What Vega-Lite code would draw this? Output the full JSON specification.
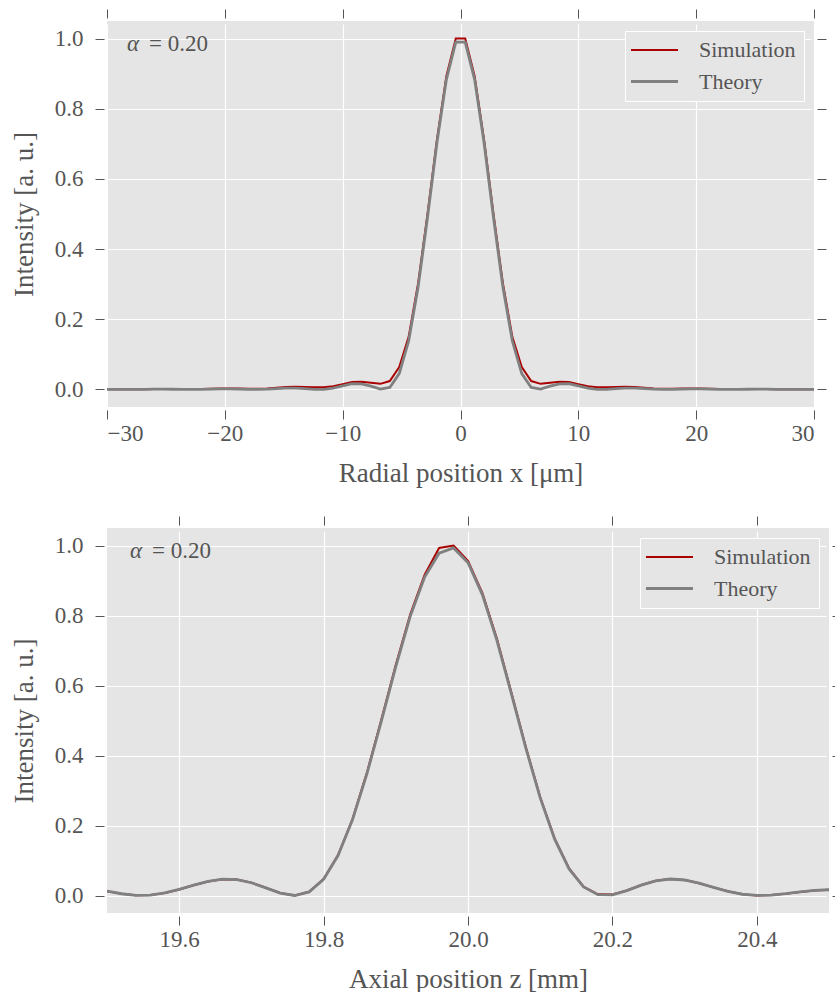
{
  "$schema": "https://vega.github.io/schema/vega-lite/v6.json",
  "background": "white",
  "padding": {"left": 10, "top": 8, "right": 0, "bottom": 0},
  "spacing": 29,
  "datasets": {
    "radial": [
      {"x": -30.0, "v": 0.0004, "s": "Simulation"}, {"x": -29.2, "v": 0.0004, "s": "Simulation"}, {"x": -28.4, "v": 0.0004, "s": "Simulation"}, {"x": -27.6, "v": 0.0005, "s": "Simulation"}, {"x": -26.8, "v": 0.0008, "s": "Simulation"}, {"x": -26.0, "v": 0.001, "s": "Simulation"}, {"x": -25.2, "v": 0.001, "s": "Simulation"}, {"x": -24.4, "v": 0.001, "s": "Simulation"}, {"x": -23.6, "v": 0.001, "s": "Simulation"}, {"x": -22.8, "v": 0.001, "s": "Simulation"}, {"x": -22.0, "v": 0.001, "s": "Simulation"}, {"x": -21.2, "v": 0.002, "s": "Simulation"}, {"x": -20.4, "v": 0.003, "s": "Simulation"}, {"x": -19.6, "v": 0.003, "s": "Simulation"}, {"x": -18.8, "v": 0.003, "s": "Simulation"}, {"x": -18.0, "v": 0.002, "s": "Simulation"}, {"x": -17.2, "v": 0.002, "s": "Simulation"}, {"x": -16.4, "v": 0.003, "s": "Simulation"}, {"x": -15.6, "v": 0.005, "s": "Simulation"}, {"x": -14.8, "v": 0.007, "s": "Simulation"}, {"x": -14.0, "v": 0.008, "s": "Simulation"}, {"x": -13.2, "v": 0.007, "s": "Simulation"}, {"x": -12.4, "v": 0.006, "s": "Simulation"}, {"x": -11.6, "v": 0.006, "s": "Simulation"}, {"x": -10.8, "v": 0.009, "s": "Simulation"}, {"x": -10.0, "v": 0.015, "s": "Simulation"}, {"x": -9.2, "v": 0.021, "s": "Simulation"}, {"x": -8.4, "v": 0.022, "s": "Simulation"}, {"x": -7.6, "v": 0.019, "s": "Simulation"}, {"x": -6.8, "v": 0.016, "s": "Simulation"}, {"x": -6.0, "v": 0.024, "s": "Simulation"}, {"x": -5.2, "v": 0.064, "s": "Simulation"}, {"x": -4.4, "v": 0.150, "s": "Simulation"}, {"x": -3.6, "v": 0.302, "s": "Simulation"}, {"x": -2.8, "v": 0.500, "s": "Simulation"}, {"x": -2.0, "v": 0.712, "s": "Simulation"}, {"x": -1.2, "v": 0.893, "s": "Simulation"}, {"x": -0.4, "v": 1.000, "s": "Simulation"},
      {"x": 0.4, "v": 1.000, "s": "Simulation"}, {"x": 1.2, "v": 0.893, "s": "Simulation"}, {"x": 2.0, "v": 0.712, "s": "Simulation"}, {"x": 2.8, "v": 0.500, "s": "Simulation"}, {"x": 3.6, "v": 0.302, "s": "Simulation"}, {"x": 4.4, "v": 0.150, "s": "Simulation"}, {"x": 5.2, "v": 0.064, "s": "Simulation"}, {"x": 6.0, "v": 0.024, "s": "Simulation"}, {"x": 6.8, "v": 0.016, "s": "Simulation"}, {"x": 7.6, "v": 0.019, "s": "Simulation"}, {"x": 8.4, "v": 0.022, "s": "Simulation"}, {"x": 9.2, "v": 0.021, "s": "Simulation"}, {"x": 10.0, "v": 0.015, "s": "Simulation"}, {"x": 10.8, "v": 0.009, "s": "Simulation"}, {"x": 11.6, "v": 0.006, "s": "Simulation"}, {"x": 12.4, "v": 0.006, "s": "Simulation"}, {"x": 13.2, "v": 0.007, "s": "Simulation"}, {"x": 14.0, "v": 0.008, "s": "Simulation"}, {"x": 14.8, "v": 0.007, "s": "Simulation"}, {"x": 15.6, "v": 0.005, "s": "Simulation"}, {"x": 16.4, "v": 0.003, "s": "Simulation"}, {"x": 17.2, "v": 0.002, "s": "Simulation"}, {"x": 18.0, "v": 0.002, "s": "Simulation"}, {"x": 18.8, "v": 0.003, "s": "Simulation"}, {"x": 19.6, "v": 0.003, "s": "Simulation"}, {"x": 20.4, "v": 0.003, "s": "Simulation"}, {"x": 21.2, "v": 0.002, "s": "Simulation"}, {"x": 22.0, "v": 0.001, "s": "Simulation"}, {"x": 22.8, "v": 0.001, "s": "Simulation"}, {"x": 23.6, "v": 0.001, "s": "Simulation"}, {"x": 24.4, "v": 0.001, "s": "Simulation"}, {"x": 25.2, "v": 0.001, "s": "Simulation"}, {"x": 26.0, "v": 0.001, "s": "Simulation"}, {"x": 26.8, "v": 0.0008, "s": "Simulation"}, {"x": 27.6, "v": 0.0005, "s": "Simulation"}, {"x": 28.4, "v": 0.0004, "s": "Simulation"}, {"x": 29.2, "v": 0.0004, "s": "Simulation"}, {"x": 30.0, "v": 0.0004, "s": "Simulation"},
      {"x": -30.0, "v": 0.0003, "s": "Theory"}, {"x": -29.2, "v": 0.0001, "s": "Theory"}, {"x": -28.4, "v": 0.0, "s": "Theory"}, {"x": -27.6, "v": 0.0002, "s": "Theory"}, {"x": -26.8, "v": 0.0005, "s": "Theory"}, {"x": -26.0, "v": 0.0007, "s": "Theory"}, {"x": -25.2, "v": 0.0008, "s": "Theory"}, {"x": -24.4, "v": 0.0006, "s": "Theory"}, {"x": -23.6, "v": 0.0002, "s": "Theory"}, {"x": -22.8, "v": 0.0, "s": "Theory"}, {"x": -22.0, "v": 0.0002, "s": "Theory"}, {"x": -21.2, "v": 0.0008, "s": "Theory"}, {"x": -20.4, "v": 0.0015, "s": "Theory"}, {"x": -19.6, "v": 0.0015, "s": "Theory"}, {"x": -18.8, "v": 0.001, "s": "Theory"}, {"x": -18.0, "v": 0.0003, "s": "Theory"}, {"x": -17.2, "v": 0.0, "s": "Theory"}, {"x": -16.4, "v": 0.0009, "s": "Theory"}, {"x": -15.6, "v": 0.0025, "s": "Theory"}, {"x": -14.8, "v": 0.0039, "s": "Theory"}, {"x": -14.0, "v": 0.004, "s": "Theory"}, {"x": -13.2, "v": 0.0023, "s": "Theory"}, {"x": -12.4, "v": 0.0004, "s": "Theory"}, {"x": -11.6, "v": 0.0004, "s": "Theory"}, {"x": -10.8, "v": 0.0038, "s": "Theory"}, {"x": -10.0, "v": 0.0105, "s": "Theory"}, {"x": -9.2, "v": 0.0165, "s": "Theory"}, {"x": -8.4, "v": 0.0159, "s": "Theory"}, {"x": -7.6, "v": 0.0094, "s": "Theory"}, {"x": -6.8, "v": 0.0008, "s": "Theory"}, {"x": -6.0, "v": 0.0058, "s": "Theory"}, {"x": -5.2, "v": 0.045, "s": "Theory"}, {"x": -4.4, "v": 0.138, "s": "Theory"}, {"x": -3.6, "v": 0.291, "s": "Theory"}, {"x": -2.8, "v": 0.49, "s": "Theory"}, {"x": -2.0, "v": 0.703, "s": "Theory"}, {"x": -1.2, "v": 0.883, "s": "Theory"}, {"x": -0.4, "v": 0.99, "s": "Theory"},
      {"x": 0.4, "v": 0.99, "s": "Theory"}, {"x": 1.2, "v": 0.883, "s": "Theory"}, {"x": 2.0, "v": 0.703, "s": "Theory"}, {"x": 2.8, "v": 0.49, "s": "Theory"}, {"x": 3.6, "v": 0.291, "s": "Theory"}, {"x": 4.4, "v": 0.138, "s": "Theory"}, {"x": 5.2, "v": 0.045, "s": "Theory"}, {"x": 6.0, "v": 0.0058, "s": "Theory"}, {"x": 6.8, "v": 0.0008, "s": "Theory"}, {"x": 7.6, "v": 0.0094, "s": "Theory"}, {"x": 8.4, "v": 0.0159, "s": "Theory"}, {"x": 9.2, "v": 0.0165, "s": "Theory"}, {"x": 10.0, "v": 0.0105, "s": "Theory"}, {"x": 10.8, "v": 0.0038, "s": "Theory"}, {"x": 11.6, "v": 0.0004, "s": "Theory"}, {"x": 12.4, "v": 0.0004, "s": "Theory"}, {"x": 13.2, "v": 0.0023, "s": "Theory"}, {"x": 14.0, "v": 0.004, "s": "Theory"}, {"x": 14.8, "v": 0.0039, "s": "Theory"}, {"x": 15.6, "v": 0.0025, "s": "Theory"}, {"x": 16.4, "v": 0.0009, "s": "Theory"}, {"x": 17.2, "v": 0.0, "s": "Theory"}, {"x": 18.0, "v": 0.0003, "s": "Theory"}, {"x": 18.8, "v": 0.001, "s": "Theory"}, {"x": 19.6, "v": 0.0015, "s": "Theory"}, {"x": 20.4, "v": 0.0015, "s": "Theory"}, {"x": 21.2, "v": 0.0008, "s": "Theory"}, {"x": 22.0, "v": 0.0002, "s": "Theory"}, {"x": 22.8, "v": 0.0, "s": "Theory"}, {"x": 23.6, "v": 0.0002, "s": "Theory"}, {"x": 24.4, "v": 0.0006, "s": "Theory"}, {"x": 25.2, "v": 0.0008, "s": "Theory"}, {"x": 26.0, "v": 0.0007, "s": "Theory"}, {"x": 26.8, "v": 0.0005, "s": "Theory"}, {"x": 27.6, "v": 0.0002, "s": "Theory"}, {"x": 28.4, "v": 0.0, "s": "Theory"}, {"x": 29.2, "v": 0.0001, "s": "Theory"}, {"x": 30.0, "v": 0.0003, "s": "Theory"}
    ],
    "axial": [
      {"z": 19.50, "v": 0.012, "s": "Simulation"}, {"z": 19.52, "v": 0.005, "s": "Simulation"}, {"z": 19.54, "v": 0.0008, "s": "Simulation"}, {"z": 19.56, "v": 0.0012, "s": "Simulation"}, {"z": 19.58, "v": 0.0068, "s": "Simulation"}, {"z": 19.60, "v": 0.017, "s": "Simulation"}, {"z": 19.62, "v": 0.0292, "s": "Simulation"}, {"z": 19.64, "v": 0.0402, "s": "Simulation"}, {"z": 19.66, "v": 0.0465, "s": "Simulation"}, {"z": 19.68, "v": 0.0458, "s": "Simulation"}, {"z": 19.70, "v": 0.0368, "s": "Simulation"}, {"z": 19.72, "v": 0.0222, "s": "Simulation"}, {"z": 19.74, "v": 0.0072, "s": "Simulation"}, {"z": 19.76, "v": 0.0002, "s": "Simulation"}, {"z": 19.78, "v": 0.0105, "s": "Simulation"}, {"z": 19.80, "v": 0.0468, "s": "Simulation"}, {"z": 19.82, "v": 0.1155, "s": "Simulation"}, {"z": 19.84, "v": 0.2185, "s": "Simulation"}, {"z": 19.86, "v": 0.351, "s": "Simulation"}, {"z": 19.88, "v": 0.503, "s": "Simulation"}, {"z": 19.90, "v": 0.6595, "s": "Simulation"}, {"z": 19.92, "v": 0.8035, "s": "Simulation"}, {"z": 19.94, "v": 0.9165, "s": "Simulation"}, {"z": 19.96, "v": 0.993, "s": "Simulation"}, {"z": 19.98, "v": 1.0, "s": "Simulation"}, {"z": 20.00, "v": 0.956, "s": "Simulation"}, {"z": 20.02, "v": 0.864, "s": "Simulation"}, {"z": 20.04, "v": 0.734, "s": "Simulation"}, {"z": 20.06, "v": 0.581, "s": "Simulation"}, {"z": 20.08, "v": 0.425, "s": "Simulation"}, {"z": 20.10, "v": 0.2815, "s": "Simulation"}, {"z": 20.12, "v": 0.163, "s": "Simulation"}, {"z": 20.14, "v": 0.0775, "s": "Simulation"}, {"z": 20.16, "v": 0.0255, "s": "Simulation"}, {"z": 20.18, "v": 0.0035, "s": "Simulation"}, {"z": 20.20, "v": 0.003, "s": "Simulation"}, {"z": 20.22, "v": 0.0145, "s": "Simulation"}, {"z": 20.24, "v": 0.03, "s": "Simulation"}, {"z": 20.26, "v": 0.0422, "s": "Simulation"}, {"z": 20.28, "v": 0.0472, "s": "Simulation"}, {"z": 20.30, "v": 0.0443, "s": "Simulation"}, {"z": 20.32, "v": 0.0352, "s": "Simulation"}, {"z": 20.34, "v": 0.0233, "s": "Simulation"}, {"z": 20.36, "v": 0.0119, "s": "Simulation"}, {"z": 20.38, "v": 0.0037, "s": "Simulation"}, {"z": 20.40, "v": 0.0002, "s": "Simulation"}, {"z": 20.42, "v": 0.0011, "s": "Simulation"}, {"z": 20.44, "v": 0.0052, "s": "Simulation"}, {"z": 20.46, "v": 0.0103, "s": "Simulation"}, {"z": 20.48, "v": 0.0145, "s": "Simulation"}, {"z": 20.50, "v": 0.0164, "s": "Simulation"},
      {"z": 19.50, "v": 0.0125, "s": "Theory"}, {"z": 19.52, "v": 0.005, "s": "Theory"}, {"z": 19.54, "v": 0.0006, "s": "Theory"}, {"z": 19.56, "v": 0.0013, "s": "Theory"}, {"z": 19.58, "v": 0.0072, "s": "Theory"}, {"z": 19.60, "v": 0.0173, "s": "Theory"}, {"z": 19.62, "v": 0.0294, "s": "Theory"}, {"z": 19.64, "v": 0.0404, "s": "Theory"}, {"z": 19.66, "v": 0.0466, "s": "Theory"}, {"z": 19.68, "v": 0.0456, "s": "Theory"}, {"z": 19.70, "v": 0.0365, "s": "Theory"}, {"z": 19.72, "v": 0.0219, "s": "Theory"}, {"z": 19.74, "v": 0.007, "s": "Theory"}, {"z": 19.76, "v": 0.0, "s": "Theory"}, {"z": 19.78, "v": 0.0103, "s": "Theory"}, {"z": 19.80, "v": 0.0462, "s": "Theory"}, {"z": 19.82, "v": 0.114, "s": "Theory"}, {"z": 19.84, "v": 0.216, "s": "Theory"}, {"z": 19.86, "v": 0.3475, "s": "Theory"}, {"z": 19.88, "v": 0.4985, "s": "Theory"}, {"z": 19.90, "v": 0.654, "s": "Theory"}, {"z": 19.92, "v": 0.7975, "s": "Theory"}, {"z": 19.94, "v": 0.91, "s": "Theory"}, {"z": 19.96, "v": 0.978, "s": "Theory"}, {"z": 19.98, "v": 0.993, "s": "Theory"}, {"z": 20.00, "v": 0.951, "s": "Theory"}, {"z": 20.02, "v": 0.859, "s": "Theory"}, {"z": 20.04, "v": 0.729, "s": "Theory"}, {"z": 20.06, "v": 0.577, "s": "Theory"}, {"z": 20.08, "v": 0.4215, "s": "Theory"}, {"z": 20.10, "v": 0.279, "s": "Theory"}, {"z": 20.12, "v": 0.161, "s": "Theory"}, {"z": 20.14, "v": 0.076, "s": "Theory"}, {"z": 20.16, "v": 0.0244, "s": "Theory"}, {"z": 20.18, "v": 0.0024, "s": "Theory"}, {"z": 20.20, "v": 0.002, "s": "Theory"}, {"z": 20.22, "v": 0.014, "s": "Theory"}, {"z": 20.24, "v": 0.0298, "s": "Theory"}, {"z": 20.26, "v": 0.042, "s": "Theory"}, {"z": 20.28, "v": 0.0471, "s": "Theory"}, {"z": 20.30, "v": 0.0443, "s": "Theory"}, {"z": 20.32, "v": 0.0352, "s": "Theory"}, {"z": 20.34, "v": 0.0233, "s": "Theory"}, {"z": 20.36, "v": 0.0119, "s": "Theory"}, {"z": 20.38, "v": 0.0036, "s": "Theory"}, {"z": 20.40, "v": 0.0001, "s": "Theory"}, {"z": 20.42, "v": 0.0011, "s": "Theory"}, {"z": 20.44, "v": 0.0052, "s": "Theory"}, {"z": 20.46, "v": 0.0103, "s": "Theory"}, {"z": 20.48, "v": 0.0145, "s": "Theory"}, {"z": 20.50, "v": 0.0164, "s": "Theory"}
    ],
    "ann1": [{"x": -28.3, "v": 0.985, "a": "α", "b": "= 0.20"}],
    "ann2": [{"z": 19.532, "v": 0.985, "a": "α", "b": "= 0.20"}]
  },
  "vconcat": [
    {
      "width": 707,
      "height": 386,
      "resolve": {"axis": {"x": "independent", "y": "independent"}},
      "layer": [
        {
          "data": {"name": "radial"},
          "mark": {"type": "line", "clip": true},
          "encoding": {
            "x": {"field": "x", "type": "quantitative", "scale": {"domain": [-30, 30], "nice": false, "zero": false},
                  "axis": {"orient": "bottom", "values": [-30, -20, -10, 0, 10, 20, 30], "title": "Radial position x [μm]", "grid": true, "labelPadding": 3, "titlePadding": 15}},
            "y": {"field": "v", "type": "quantitative", "scale": {"domain": [-0.05, 1.05], "nice": false, "zero": false},
                  "axis": {"orient": "left", "values": [0, 0.2, 0.4, 0.6, 0.8, 1.0], "format": ".1f", "title": "Intensity [a. u.]", "grid": true, "labelPadding": 12, "titlePadding": 16}},
            "color": {"field": "s", "type": "nominal", "scale": {"domain": ["Simulation", "Theory"], "range": ["#aa0000", "#808080"]}, "legend": {"title": null, "labelExpr": "datum.label + '\u00a0\u00a0'"}},
            "strokeWidth": {"field": "s", "type": "nominal", "scale": {"domain": ["Simulation", "Theory"], "range": [2, 2.8]}, "legend": {"title": null, "labelExpr": "datum.label + '\u00a0\u00a0'"}}
          }
        },
        {
          "data": {"name": "ann1"},
          "mark": {"type": "text", "align": "left", "baseline": "middle", "fontSize": 23, "fontStyle": "italic", "color": "#555555", "font": "Liberation Serif"},
          "encoding": {
            "x": {"field": "x", "type": "quantitative", "scale": {"domain": [-30, 30], "nice": false, "zero": false},
                  "axis": {"orient": "top", "values": [-30, -20, -10, 0, 10, 20, 30], "labels": false, "title": null, "grid": false}},
            "y": {"field": "v", "type": "quantitative", "scale": {"domain": [-0.05, 1.05], "nice": false, "zero": false},
                  "axis": {"orient": "right", "values": [0, 0.2, 0.4, 0.6, 0.8, 1.0], "labels": false, "title": null, "grid": false}},
            "text": {"field": "a"}
          }
        },
        {
          "data": {"name": "ann1"},
          "mark": {"type": "text", "align": "left", "baseline": "middle", "fontSize": 23, "dx": 22, "color": "#555555", "font": "Liberation Serif"},
          "encoding": {
            "x": {"field": "x", "type": "quantitative", "axis": null},
            "y": {"field": "v", "type": "quantitative", "axis": null},
            "text": {"field": "b"}
          }
        }
      ]
    },
    {
      "width": 722,
      "height": 385,
      "resolve": {"axis": {"x": "independent", "y": "independent"}},
      "layer": [
        {
          "data": {"name": "axial"},
          "mark": {"type": "line", "clip": true},
          "encoding": {
            "x": {"field": "z", "type": "quantitative", "scale": {"domain": [19.5, 20.5], "nice": false, "zero": false},
                  "axis": {"orient": "bottom", "values": [19.6, 19.8, 20.0, 20.2, 20.4], "format": ".1f", "title": "Axial position z [mm]", "grid": true, "labelPadding": 3, "titlePadding": 15}},
            "y": {"field": "v", "type": "quantitative", "scale": {"domain": [-0.05, 1.05], "nice": false, "zero": false},
                  "axis": {"orient": "left", "values": [0, 0.2, 0.4, 0.6, 0.8, 1.0], "format": ".1f", "title": "Intensity [a. u.]", "grid": true, "labelPadding": 12, "titlePadding": 16}},
            "color": {"field": "s", "type": "nominal", "scale": {"domain": ["Simulation", "Theory"], "range": ["#aa0000", "#808080"]}, "legend": {"title": null, "labelExpr": "datum.label + '\u00a0\u00a0'"}},
            "strokeWidth": {"field": "s", "type": "nominal", "scale": {"domain": ["Simulation", "Theory"], "range": [2, 2.8]}, "legend": {"title": null, "labelExpr": "datum.label + '\u00a0\u00a0'"}}
          }
        },
        {
          "data": {"name": "ann2"},
          "mark": {"type": "text", "align": "left", "baseline": "middle", "fontSize": 23, "fontStyle": "italic", "color": "#555555", "font": "Liberation Serif"},
          "encoding": {
            "x": {"field": "z", "type": "quantitative", "scale": {"domain": [19.5, 20.5], "nice": false, "zero": false},
                  "axis": {"orient": "top", "values": [19.6, 19.8, 20.0, 20.2, 20.4], "labels": false, "title": null, "grid": false}},
            "y": {"field": "v", "type": "quantitative", "scale": {"domain": [-0.05, 1.05], "nice": false, "zero": false},
                  "axis": {"orient": "right", "values": [0, 0.2, 0.4, 0.6, 0.8, 1.0], "labels": false, "title": null, "grid": false}},
            "text": {"field": "a"}
          }
        },
        {
          "data": {"name": "ann2"},
          "mark": {"type": "text", "align": "left", "baseline": "middle", "fontSize": 23, "dx": 22, "color": "#555555", "font": "Liberation Serif"},
          "encoding": {
            "x": {"field": "z", "type": "quantitative", "axis": null},
            "y": {"field": "v", "type": "quantitative", "axis": null},
            "text": {"field": "b"}
          }
        }
      ]
    }
  ],
  "resolve": {"scale": {"color": "independent", "strokeWidth": "independent"}},
  "config": {
    "font": "Liberation Serif",
    "view": {"fill": "#E5E5E5", "stroke": null},
    "axis": {
      "labelFont": "Liberation Serif", "titleFont": "Liberation Serif",
      "labelFontSize": 23, "titleFontSize": 27, "titleFontWeight": "normal",
      "labelColor": "#555555", "titleColor": "#555555",
      "tickColor": "#555555", "tickSize": 9, "tickWidth": 1, "offset": 3,
      "domain": false, "gridColor": "#FFFFFF", "gridWidth": 1.2
    },
    "legend": {
      "orient": "top-right", "offset": 10, "strokeColor": "#FFFFFF", "fillColor": "#E5E5E5",
      "padding": 8, "symbolType": "M-2.35,0H2.35", "symbolSize": 400, "symbolStrokeWidth": 2.5, "symbolOffset": 10,
      "labelFont": "Liberation Serif", "labelFontSize": 22, "labelColor": "#555555",
      "labelOffset": 33, "rowPadding": 9
    }
  }
}
